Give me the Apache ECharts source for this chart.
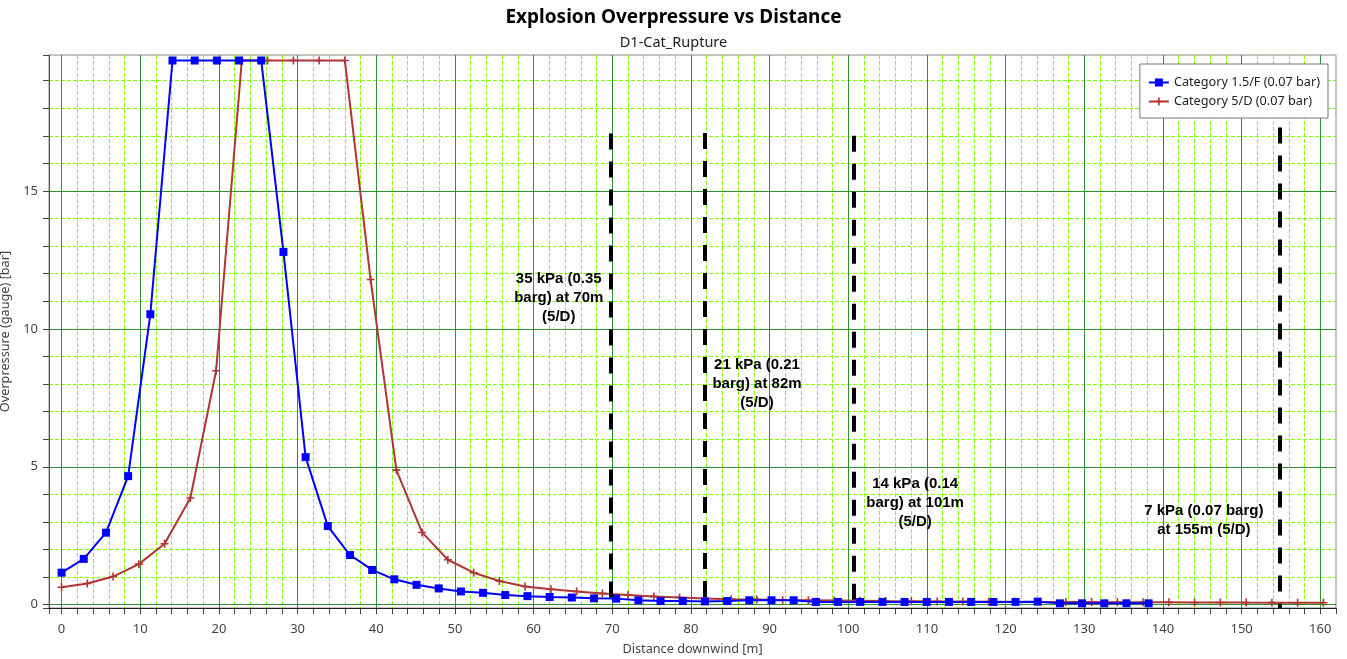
<!DOCTYPE html>
<html>
<head>
<meta charset="utf-8">
<script src="https://cdn.jsdelivr.net/npm/echarts@6/dist/echarts.min.js"></script>
<style>html,body{margin:0;padding:0;background:#fff;}#chart{width:1347px;height:659px;}</style>
</head>
<body>
<div id="chart"></div>
<script>
const seriesNames = ['Category 1.5/F (0.07 bar)', 'Category 5/D (0.07 bar)'];

const blueX = [0,2.82,5.64,8.46,11.28,14.1,16.92,19.74,22.56,25.38,28.2,31.02,33.84,36.66,39.48,42.3,45.12,47.94,50.76,53.58,56.4,59.22,62.04,64.86,67.68,70.5,73.32,76.14,78.96,81.78,84.6,87.42,90.24,93.06,95.88,98.7,101.52,104.34,107.16,109.98,112.8,115.62,118.44,121.26,124.08,126.9,129.72,132.54,135.36,138.18];
const blueY = [1.16,1.66,2.61,4.66,10.53,19.73,19.73,19.73,19.73,19.73,12.79,5.35,2.85,1.80,1.26,0.92,0.72,0.59,0.48,0.43,0.35,0.31,0.28,0.26,0.23,0.22,0.16,0.13,0.13,0.12,0.13,0.16,0.16,0.16,0.10,0.10,0.10,0.10,0.10,0.10,0.10,0.10,0.10,0.10,0.11,0.05,0.05,0.05,0.05,0.05];

const redX = [0,3.27,6.55,9.82,13.09,16.37,19.64,22.91,26.19,29.46,32.74,36.01,39.28,42.56,45.83,49.1,52.38,55.65,58.92,62.2,65.47,68.74,72.01,75.29,78.56,81.84,85.11,88.38,91.66,94.93,98.2,101.48,104.75,108.02,111.3,114.57,117.84,121.12,124.39,127.66,130.94,134.21,137.48,140.76,144.03,147.3,150.58,153.85,157.12,160.4];
const redY = [0.63,0.77,1.02,1.47,2.21,3.87,8.48,19.73,19.73,19.73,19.73,19.73,11.79,4.88,2.62,1.63,1.16,0.86,0.66,0.56,0.48,0.41,0.35,0.30,0.26,0.22,0.20,0.185,0.17,0.16,0.15,0.14,0.13,0.125,0.12,0.115,0.11,0.105,0.10,0.097,0.094,0.091,0.088,0.085,0.082,0.079,0.076,0.074,0.071,0.069];

// threshold lines: distance [m], top of the line [bar]
const thresholdX = [69.8, 81.8, 100.7, 154.8];
const thresholdTop = [17.08, 17.1, 17.0, 17.3];
// annotation texts and their anchor (data units)
const noteText = ['35 kPa (0.35\nbarg) at 70m\n(5/D)', '21 kPa (0.21\nbarg) at 82m\n(5/D)', '14 kPa (0.14\nbarg) at 101m\n(5/D)', '7 kPa (0.07 barg)\nat 155m (5/D)'];
const noteX = [63.2, 88.4, 108.5, 145.2];
const noteY = [11.13, 8.02, 3.69, 3.04];

const X_MIN = -1.6, X_MAX = 162, Y_MIN = -0.12, Y_MAX = 19.93;

const chart = echarts.init(document.getElementById('chart'));
const font = '"Noto Sans", "Open Sans", sans-serif';

const plusPath = 'path://M4,0 H6 V4 H10 V6 H6 V10 H4 V6 H0 V4 H4 Z';

const option = {
  animation: false,
  backgroundColor: '#fff',
  title: [{
    text: 'Explosion Overpressure vs Distance',
    left: 'center', top: 3,
    textStyle: { fontFamily: font, fontSize: 19, fontWeight: 'bold', color: '#000' }
  }, {
    text: 'D1-Cat_Rupture',
    left: 'center', top: 30,
    textStyle: { fontFamily: font, fontSize: 14.5, fontWeight: 'normal', color: '#222' }
  }],
  legend: {
    data: seriesNames,
    orient: 'vertical',
    right: 19, top: 64,
    backgroundColor: '#fff',
    borderColor: '#777', borderWidth: 1,
    padding: [12, 8, 10, 8],
    itemWidth: 20, itemHeight: 10, itemGap: 6,
    textStyle: { fontFamily: font, fontSize: 12.7, color: '#222' }
  },
  grid: {
    left: 49, right: 11, top: 55, bottom: 51,
    show: true, borderColor: '#888', borderWidth: 1, backgroundColor: '#fff',
    outerBoundsMode: 'none'
  },
  xAxis: [{
    type: 'value', min: X_MIN, max: X_MAX, splitNumber: 16, position: 'bottom', z: 1,
    axisLine: { show: true, onZero: false, lineStyle: { color: '#222', width: 1 } },
    axisTick: { show: false },
    axisLabel: { show: true, showMinLabel: false, showMaxLabel: false, margin: 15, fontFamily: font, fontSize: 13, color: '#444' },
    splitLine: { show: true, showMinLine: false, showMaxLine: false, lineStyle: { color: '#2f8f2f', width: 1 } },
    name: 'Distance downwind [m]', nameLocation: 'middle', nameGap: 35,
    nameTextStyle: { fontFamily: font, fontSize: 12.7, color: '#444' }
  }, {
    type: 'value', min: X_MIN, max: X_MAX, splitNumber: 80, position: 'bottom', z: 0,
    axisLine: { show: false, onZero: false },
    axisTick: { show: true, inside: false, length: 6, lineStyle: { color: '#444' } },
    axisLabel: { show: false },
    splitLine: { show: true, showMinLine: false, showMaxLine: false, lineStyle: { color: '#7fff00', width: 1, type: [4, 2] } }
  }],
  yAxis: [{
    type: 'value', min: Y_MIN, max: Y_MAX, splitNumber: 4, position: 'left', z: 1,
    axisLine: { show: true, onZero: false, lineStyle: { color: '#555', width: 1 } },
    axisTick: { show: false },
    axisLabel: { show: true, showMinLabel: false, showMaxLabel: false, margin: 11, fontFamily: font, fontSize: 13, color: '#444' },
    splitLine: { show: true, showMinLine: false, showMaxLine: false, lineStyle: { color: '#2f8f2f', width: 1 } },
    name: 'Overpressure (gauge) [bar]', nameLocation: 'middle', nameGap: 21,
    nameTextStyle: { fontFamily: font, fontSize: 12.7, color: '#444' }
  }, {
    type: 'value', min: Y_MIN, max: Y_MAX, splitNumber: 20, position: 'left', z: 0,
    axisLine: { show: false, onZero: false },
    axisTick: { show: true, inside: false, length: 6, lineStyle: { color: '#444' } },
    axisLabel: { show: false },
    splitLine: { show: true, showMinLine: false, showMaxLine: false, lineStyle: { color: '#7fff00', width: 1, type: [4, 2] } }
  }],
  series: [{
    name: seriesNames[0], type: 'line',
    xAxisIndex: 0, yAxisIndex: 0,
    data: blueX.map((x, i) => [x, blueY[i]]),
    symbol: 'rect', symbolSize: 8, showAllSymbol: true,
    lineStyle: { color: '#0000ff', width: 2 },
    itemStyle: { color: '#0000ff' },
    z: 4
  }, {
    name: seriesNames[1], type: 'line',
    xAxisIndex: 0, yAxisIndex: 0,
    data: redX.map((x, i) => [x, redY[i]]),
    symbol: plusPath, symbolSize: 8, showAllSymbol: true,
    lineStyle: { color: '#b03535', width: 2 },
    itemStyle: { color: '#b03535' },
    z: 3
  }, {
    name: 'notes', type: 'scatter',
    xAxisIndex: 0, yAxisIndex: 0,
    symbol: 'circle', symbolSize: 0, itemStyle: { color: '#000', opacity: 1 },
    silent: true, z: 5,
    data: noteX.map((x, i) => [x, noteY[i], noteText[i]]),
    label: {
      show: true, position: [0, 0], align: 'center', verticalAlign: 'middle',
      formatter: p => p.data[2],
      fontFamily: '"Liberation Sans", Arial, sans-serif', fontSize: 15, fontWeight: 'bold',
      lineHeight: 19, color: '#000000', opacity: 1, textBorderWidth: 0
    },
    markLine: {
      silent: true, symbol: 'none', animation: false,
      label: { show: false },
      lineStyle: { color: '#000', width: 4, type: [16, 12] },
      data: thresholdX.map((x, i) => [{ coord: [x, thresholdTop[i]] }, { coord: [x, Y_MIN] }])
    }
  }]
};
chart.setOption(option);
</script>
</body>
</html>
